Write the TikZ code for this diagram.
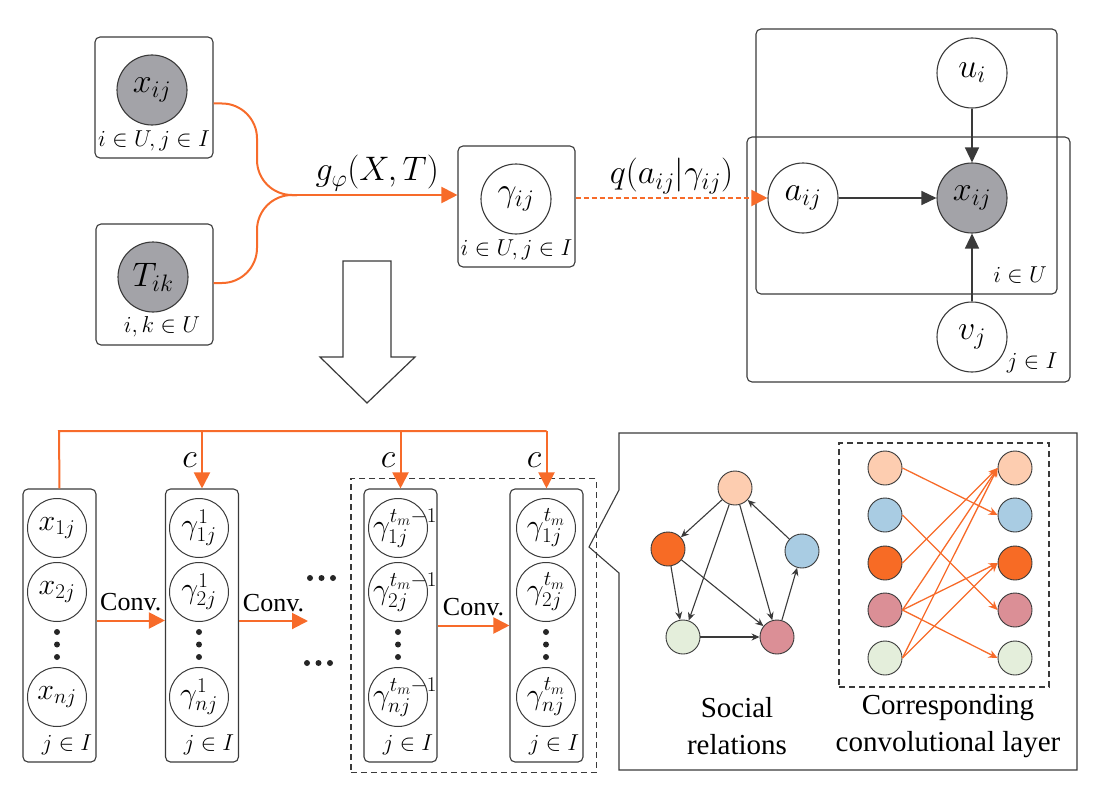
\RequirePackage{fix-cm}
\documentclass[tikz,border=0pt]{standalone}
\usepackage{fontspec}
\setmainfont{Liberation Serif}
\usepackage{amsmath}
\usepackage{tikz}
\usetikzlibrary{arrows.meta,positioning,fit,calc}
\definecolor{LineGray}{HTML}{3A3A3A}
\definecolor{ObsGray}{HTML}{A3A3A8}
\definecolor{FlowOrange}{HTML}{F76B2A}
\definecolor{SoftPeach}{HTML}{FDCDB0}
\definecolor{SoftSky}{HTML}{A9CCE3}
\definecolor{DeepOrange}{HTML}{F76B25}
\definecolor{SoftRose}{HTML}{DB8F96}
\definecolor{SoftSage}{HTML}{E4EEDB}
\newcommand{\fixw}[1]{\makebox[34pt]{#1}}
\newcommand{\fixl}[1]{\makebox[34pt][l]{\hspace{-8pt}#1}}
\tikzset{
  % Plate box
  PL/.style={rectangle,rounded corners=5pt,draw=LineGray,line width=1.1pt,inner sep=0pt},
  % Variable circles
  VB/.style={circle,draw=LineGray,line width=1.1pt,fill=white,inner sep=0pt,
             minimum size=70pt,font=\fontsize{34}{36}\selectfont},
  VO/.style={VB,fill=ObsGray},
  VS/.style={circle,draw=LineGray,line width=1pt,inner sep=0pt,
             minimum size=59pt,font=\fontsize{30}{32}\selectfont},
  % Social graph circles
  SN/.style={circle,draw=LineGray,line width=0.9pt,inner sep=0pt,minimum size=34pt},
  % Label styles
  IX/.style={font=\fontsize{23}{25}\selectfont},
  ML/.style={font=\fontsize{34}{36}\selectfont},
  TX/.style={font=\fontsize{29}{37}\selectfont,align=center},
  CV/.style={font=\fontsize{26}{30}\selectfont},
  % Arrows
  oln/.style={draw=FlowOrange,line width=2pt},
  oarr/.style={oln,-{Triangle[length=16pt,width=16pt]}},
  karr/.style={draw=LineGray,line width=1.4pt,-{Triangle[length=15pt,width=14pt]}},
  sarr/.style={draw=LineGray,line width=1.1pt,-{Stealth[length=8pt,width=7pt]}},
  carr/.style={draw=FlowOrange,line width=1.3pt,-{Stealth[length=9pt,width=8pt]}},
  dbox/.style={draw=LineGray,line width=1.1pt,dash pattern=on 6pt off 4pt,inner sep=0pt}
}

\begin{document}
\begin{tikzpicture}[x=1pt,y=-1pt]
  \useasboundingbox (0,0) rectangle (1102,789);

  % inputs and gamma
  \node[PL,minimum width=118pt,minimum height=121pt] (px) at (154,97.5) {};
  \node[VO] (xin) at (152,90) {$x_{ij}$};
  \node[IX] (lx) at (154,141) {$i\in U, j\in I$};
  \node[PL,minimum width=117pt,minimum height=121pt] (pT) at (154.5,284.5) {};
  \node[VO] (tin) at (153,277) {$T_{ik}$};
  \node[IX] (lT) at (162,327) {$i,k\in U$};
  \node[PL,minimum width=117pt,minimum height=121pt] (pg) at (516.5,206.5) {};
  \node[VB] (gam) at (516,199) {$\gamma_{ij}$};
  \node[IX] (lg) at (516.5,250) {$i\in U, j\in I$};
  \coordinate (jn) at (297,195);
  \coordinate (bend) at (257,195);

  \draw[oln,rounded corners=35pt]([yshift=-6pt]px.east) -| (bend) -- (jn);
  \draw[oln,rounded corners=35pt]([yshift=1.5pt]pT.east) -| (bend) -- (jn);
  \draw[oarr](jn) -- node[ML,above=0pt]{$g_{\varphi}(X,T)$} (jn -| pg.west);

  % generative model
  \node[PL,minimum width=301pt,minimum height=265pt] (pu) at (906.5,161.5) {};
  \node[PL,minimum width=323pt,minimum height=245pt] (pv) at (908.5,259.5) {};
  \node[VB] (u) at (972,73) {$u_i$};
  \node[VB] (a) at (803,198) {$a_{ij}$};
  \node[VO] (xr) at (972,198) {$x_{ij}$};
  \node[VB] (v) at (972,337) {$v_j$};
  \node[IX] (lu) at (1020,275) {$i\in U$};
  \node[IX] (lv) at (1032,363) {$j\in I$};

  \draw[oarr,dash pattern=on 5pt off 3pt](a.west -| pg.east) -- node[ML,above=0pt]{$q(a_{ij}|\gamma_{ij})$} (a.west);
  \draw[karr](u)--(xr);
  \draw[karr](a)--(xr);
  \draw[karr](v)--(xr);

  % hollow arrow
  \draw[draw=LineGray,line width=1.2pt,fill=white] (343,261) -- (391,261) -- (391,357) -- (415,357)
    -- (367,403) -- (320,357) -- (343,357) -- cycle;

  % convolution columns
  \node[PL,minimum width=73pt,minimum height=273pt] (c1) at (59.5,625.5) {};
  \node[PL,minimum width=73pt,minimum height=273pt] (c2) at (202,625.5) {};
  \node[PL,minimum width=73pt,minimum height=273pt] (c3) at (400.5,625.5) {};
  \node[PL,minimum width=73pt,minimum height=273pt] (c4) at (546.5,625.5) {};
  \node[dbox,fit=(c3)(c4),inner xsep=12.5pt,inner ysep=10pt] (lastbox) {};

  \node[VS] (x1) at (57,528) {$x_{1j}$};
  \node[VS] (x2) at (57,592) {$x_{2j}$};
  \node[VS] (xn) at (57,697) {$x_{nj}$};
  \node[VS] (g1) at (199,528) {$\gamma^{1}_{1j}$};
  \node[VS] (g2) at (199,592) {$\gamma^{1}_{2j}$};
  \node[VS] (gn) at (199,697) {$\gamma^{1}_{nj}$};
  \node[VS] (h1) at (398,528) {\fixl{$\gamma^{t_m-1}_{1j}$}};
  \node[VS] (h2) at (398,592) {\fixl{$\gamma^{t_m-1}_{2j}$}};
  \node[VS] (hn) at (398,697) {\fixl{$\gamma^{t_m-1}_{nj}$}};
  \node[VS] (k1) at (546,528) {\fixw{$\gamma^{t_m}_{1j}$}};
  \node[VS] (k2) at (546,592) {\fixw{$\gamma^{t_m}_{2j}$}};
  \node[VS] (kn) at (546,697) {\fixw{$\gamma^{t_m}_{nj}$}};
  \node[IX] (l1) at (67,745) {$j\in I$};
  \node[IX] (l2) at (209,745) {$j\in I$};
  \node[IX] (l3) at (408,745) {$j\in I$};
  \node[IX] (l4) at (554,745) {$j\in I$};

  \foreach \cx in {57,199,398,546}
    \foreach \cy in {632,644.5,657}
      \fill[black!85] (\cx,\cy) circle (3pt);
  \foreach \cx in {310,321.5,333}{
    \fill[black!85] (\cx,578) circle (3pt);
    \fill[black!85] (\cx-3,663) circle (3pt);}

  \coordinate (tl) at (59,431);
  \coordinate (cend) at (308,621);
  \draw[oln](c1.north) -- (tl) -- (tl -| c4.north);
  \draw[oarr](tl -| c2.north) -- node[ML,left=1pt,pos=0.5]{$c$} (c2.north);
  \draw[oarr](tl -| c3.north) -- node[ML,left=1pt,pos=0.5]{$c$} (c3.north);
  \draw[oarr](tl -| c4.north) -- node[ML,left=1pt,pos=0.5]{$c$} (c4.north);
  \draw[oarr]([yshift=5pt]c1.east) -- node[CV,above=5pt]{Conv.} ([yshift=5pt]c2.west);
  \draw[oarr](c2.east |- cend) -- node[CV,above=5pt]{Conv.} (cend);
  \draw[oarr](c3.east) -- node[CV,above=5pt]{Conv.} (c4.west);

  % detail panel
  \draw[draw=LineGray,line width=1.1pt] (619,433) -- (1077,433) -- (1077,770) -- (619,770)
    -- (619,573) -- (589,547) -- (619,490) -- cycle;

  \node[SN,fill=SoftPeach] (st) at (735,488) {};
  \node[SN,fill=DeepOrange] (so) at (668,549) {};
  \node[SN,fill=SoftSky] (sb) at (802,551) {};
  \node[SN,fill=SoftSage] (sg) at (683,637) {};
  \node[SN,fill=SoftRose] (sp) at (777,637) {};
  \node[TX] (lsoc) at (737,726.5) {Social\\relations};

  \draw[sarr](st)--(so);
  \draw[sarr](st)--(sg);
  \draw[sarr](st)--(sp);
  \draw[sarr](sb)--(st);
  \draw[sarr](so)--(sg);
  \draw[sarr](so)--(sp);
  \draw[sarr](sg)--(sp);
  \draw[sarr](sp)--(sb);

  \node[dbox,minimum width=210pt,minimum height=244pt] (convbox) at (944,565) {};
  \node[SN,fill=SoftPeach] (a1) at (885,468) {};
  \node[SN,fill=SoftSky] (a2) at (885,515) {};
  \node[SN,fill=DeepOrange] (a3) at (885,563) {};
  \node[SN,fill=SoftRose] (a4) at (885,610) {};
  \node[SN,fill=SoftSage] (a5) at (885,658) {};
  \node[SN,fill=SoftPeach] (b1) at (1015,468) {};
  \node[SN,fill=SoftSky] (b2) at (1015,515) {};
  \node[SN,fill=DeepOrange] (b3) at (1015,563) {};
  \node[SN,fill=SoftRose] (b4) at (1015,610) {};
  \node[SN,fill=SoftSage] (b5) at (1015,658) {};
  \node[TX] (lcor) at (948,726.5) {Corresponding\\convolutional layer};

  \draw[carr](a1.east)--(b2.west);
  \draw[carr](a2.east)--(b4.west);
  \draw[carr](a3.east)--(b1.west);
  \draw[carr](a4.east)--(b1.west);
  \draw[carr](a4.east)--(b3.west);
  \draw[carr](a4.east)--(b5.west);
  \draw[carr](a5.east)--(b1.west);
  \draw[carr](a5.east)--(b3.west);
\end{tikzpicture}
\end{document}
